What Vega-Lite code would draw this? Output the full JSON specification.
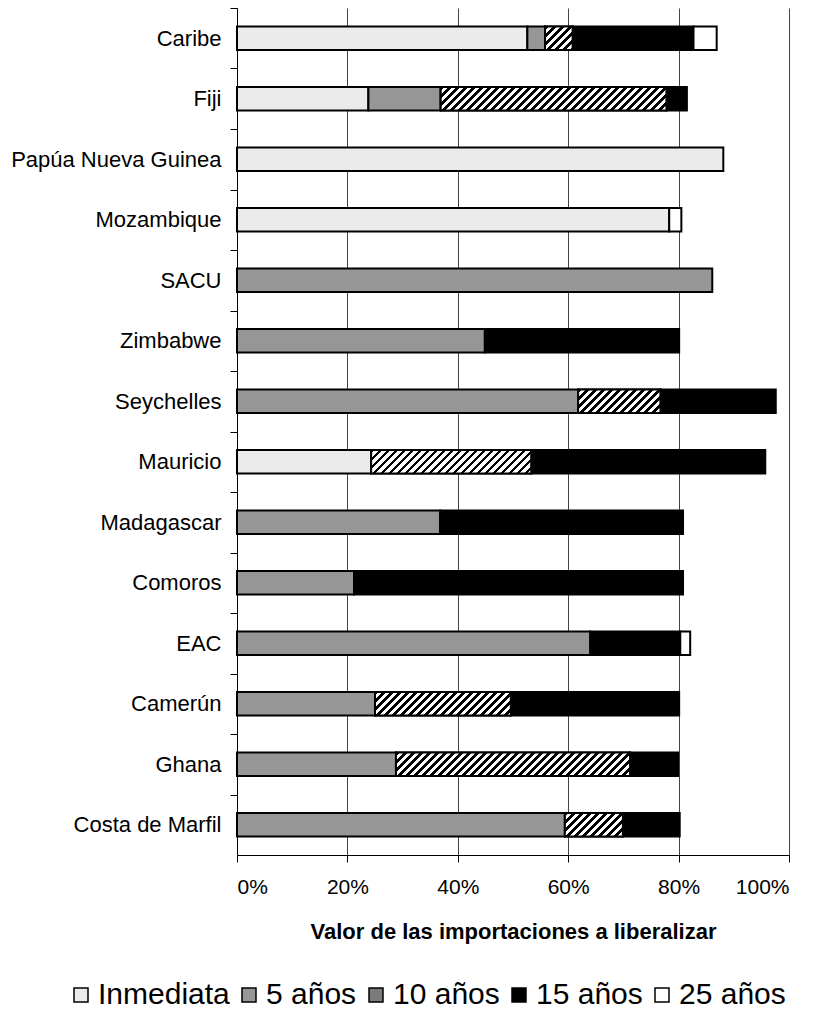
{
  "$schema": "https://vega.github.io/schema/vega-lite/v6.json",
  "width": 552,
  "height": 847,
  "autosize": {"type": "none"},
  "padding": {"left": 237, "top": 8, "right": 30, "bottom": 159},
  "background": "white",
  "config": {
    "view": {"stroke": null},
    "font": "Liberation Sans",
    "axis": {"labelFont": "Liberation Sans", "titleFont": "Liberation Sans", "labelColor": "black", "titleColor": "black", "domainColor": "black", "tickColor": "black"},
    "legend": {"labelFont": "Liberation Sans"}
  },
  "data": {
    "values": [
      {"pais": "Caribe", "anios": 0, "plazo": "Inmediata", "valor": 52.6},
      {"pais": "Caribe", "anios": 5, "plazo": "5 años", "valor": 3.2},
      {"pais": "Caribe", "anios": 10, "plazo": "10 años", "valor": 5.0},
      {"pais": "Caribe", "anios": 15, "plazo": "15 años", "valor": 21.9},
      {"pais": "Caribe", "anios": 25, "plazo": "25 años", "valor": 4.2},
      {"pais": "Fiji", "anios": 0, "plazo": "Inmediata", "valor": 23.8},
      {"pais": "Fiji", "anios": 5, "plazo": "5 años", "valor": 13.1},
      {"pais": "Fiji", "anios": 10, "plazo": "10 años", "valor": 40.9},
      {"pais": "Fiji", "anios": 15, "plazo": "15 años", "valor": 3.7},
      {"pais": "Papúa Nueva Guinea", "anios": 0, "plazo": "Inmediata", "valor": 88.1},
      {"pais": "Mozambique", "anios": 0, "plazo": "Inmediata", "valor": 78.3},
      {"pais": "Mozambique", "anios": 25, "plazo": "25 años", "valor": 2.2},
      {"pais": "SACU", "anios": 5, "plazo": "5 años", "valor": 86.1},
      {"pais": "Zimbabwe", "anios": 5, "plazo": "5 años", "valor": 44.9},
      {"pais": "Zimbabwe", "anios": 15, "plazo": "15 años", "valor": 35.2},
      {"pais": "Seychelles", "anios": 5, "plazo": "5 años", "valor": 61.8},
      {"pais": "Seychelles", "anios": 10, "plazo": "10 años", "valor": 14.9},
      {"pais": "Seychelles", "anios": 15, "plazo": "15 años", "valor": 20.9},
      {"pais": "Mauricio", "anios": 0, "plazo": "Inmediata", "valor": 24.3},
      {"pais": "Mauricio", "anios": 10, "plazo": "10 años", "valor": 29.0},
      {"pais": "Mauricio", "anios": 15, "plazo": "15 años", "valor": 42.4},
      {"pais": "Madagascar", "anios": 5, "plazo": "5 años", "valor": 36.8},
      {"pais": "Madagascar", "anios": 15, "plazo": "15 años", "valor": 44.0},
      {"pais": "Comoros", "anios": 5, "plazo": "5 años", "valor": 21.2},
      {"pais": "Comoros", "anios": 15, "plazo": "15 años", "valor": 59.6},
      {"pais": "EAC", "anios": 5, "plazo": "5 años", "valor": 64.0},
      {"pais": "EAC", "anios": 15, "plazo": "15 años", "valor": 16.3},
      {"pais": "EAC", "anios": 25, "plazo": "25 años", "valor": 1.8},
      {"pais": "Camerún", "anios": 5, "plazo": "5 años", "valor": 25.0},
      {"pais": "Camerún", "anios": 10, "plazo": "10 años", "valor": 24.6},
      {"pais": "Camerún", "anios": 15, "plazo": "15 años", "valor": 30.5},
      {"pais": "Ghana", "anios": 5, "plazo": "5 años", "valor": 28.8},
      {"pais": "Ghana", "anios": 10, "plazo": "10 años", "valor": 42.4},
      {"pais": "Ghana", "anios": 15, "plazo": "15 años", "valor": 8.7},
      {"pais": "Costa de Marfil", "anios": 5, "plazo": "5 años", "valor": 59.4},
      {"pais": "Costa de Marfil", "anios": 10, "plazo": "10 años", "valor": 10.5},
      {"pais": "Costa de Marfil", "anios": 15, "plazo": "15 años", "valor": 10.3}
    ]
  },
  "transform": [
    {"stack": "valor", "groupby": ["pais"], "sort": [{"field": "anios", "order": "ascending"}], "as": ["x0", "x1"]}
  ],
  "encoding": {
    "y": {
      "field": "pais",
      "type": "nominal",
      "sort": ["Caribe", "Fiji", "Papúa Nueva Guinea", "Mozambique", "SACU", "Zimbabwe", "Seychelles", "Mauricio", "Madagascar", "Comoros", "EAC", "Camerún", "Ghana", "Costa de Marfil"],
      "scale": {"paddingInner": 0.61, "paddingOuter": 0.305},
      "axis": {
        "title": null,
        "labelFontSize": 22,
        "labelLimit": 400,
        "labelPadding": 9,
        "tickSize": 7,
        "bandPosition": 0.5,
        "tickOffset": -30.25,
        "labelOffset": 30.25,
        "grid": false,
        "domainWidth": 1,
        "labelExpr": "(datum.value == 'SACU' || datum.value == 'EAC') ? datum.value + '\u00a0' : datum.value"
      }
    },
    "x": {
      "field": "x0",
      "type": "quantitative",
      "scale": {"domain": [0, 100], "nice": false},
      "axis": {
        "values": [0, 20, 40, 60, 80, 100],
        "labelExpr": "datum.value + '%'",
        "title": "Valor de las importaciones a liberalizar",
        "titleFontWeight": "bold",
        "titleFontSize": 22,
        "labelFontSize": 21,
        "tickSize": 7,
        "labelPadding": 14,
        "titlePadding": 24,
        "grid": true,
        "gridColor": "#444444",
        "gridWidth": 1,
        "domainWidth": 1
      }
    },
    "x2": {"field": "x1"}
  },
  "layer": [
    {
      "mark": {"type": "bar", "stroke": "black", "strokeWidth": 2},
      "encoding": {
        "color": {
          "field": "plazo",
          "type": "nominal",
          "scale": {
            "domain": ["Inmediata", "5 años", "10 años", "15 años", "25 años"],
            "range": ["#ebebeb", "#969696", "#7a7a7a", "#000000", "#ffffff"]
          },
          "legend": {
            "title": null,
            "orient": "none",
            "legendX": -171,
            "legendY": 972,
            "padding": 0,
            "direction": "horizontal",
            "symbolType": "square",
            "symbolSize": 196,
            "symbolStrokeColor": "black",
            "symbolStrokeWidth": 1.5,
            "symbolOpacity": 1,
            "labelFontSize": 30,
            "labelColor": "black",
            "columnPadding": 4,
            "labelOffset": 2,
            "encoding": {
              "symbols": {
                "stroke": {"value": "black"},
                "strokeWidth": {"value": 1.5},
                "fill": {"value": {"expr": "datum.value === '10 años' ? {gradient:'linear',x1:0,y1:0,x2:1.15,y2:1.15,stops:[{offset:0,color:'#000'},{offset:0.1125,color:'#000'},{offset:0.1125,color:'#fff'},{offset:0.25,color:'#fff'},{offset:0.25,color:'#000'},{offset:0.3625,color:'#000'},{offset:0.3625,color:'#fff'},{offset:0.5,color:'#fff'},{offset:0.5,color:'#000'},{offset:0.6125,color:'#000'},{offset:0.6125,color:'#fff'},{offset:0.75,color:'#fff'},{offset:0.75,color:'#000'},{offset:0.8625,color:'#000'},{offset:0.8625,color:'#fff'},{offset:1,color:'#fff'}]} : scale('color', datum.value)"}}
              }
            }
          }
        }
      }
    },
    {
      "transform": [{"filter": "datum.plazo === '10 años'"}],
      "mark": {
        "type": "bar",
        "stroke": "black",
        "strokeWidth": 2,
        "fill": {"expr": "{gradient:'linear',x1:0,y1:0,x2:(scale('x',datum.x1)-scale('x',datum.x0))*264/(pow(scale('x',datum.x1)-scale('x',datum.x0),2)+pow(bandwidth('y'),2)),y2:bandwidth('y')*264/(pow(scale('x',datum.x1)-scale('x',datum.x0),2)+pow(bandwidth('y'),2)),stops:[{offset:0,color:'#000'},{offset:0.0136,color:'#000'},{offset:0.0136,color:'#fff'},{offset:0.0303,color:'#fff'},{offset:0.0303,color:'#000'},{offset:0.0439,color:'#000'},{offset:0.0439,color:'#fff'},{offset:0.0606,color:'#fff'},{offset:0.0606,color:'#000'},{offset:0.0742,color:'#000'},{offset:0.0742,color:'#fff'},{offset:0.0909,color:'#fff'},{offset:0.0909,color:'#000'},{offset:0.1045,color:'#000'},{offset:0.1045,color:'#fff'},{offset:0.1212,color:'#fff'},{offset:0.1212,color:'#000'},{offset:0.1348,color:'#000'},{offset:0.1348,color:'#fff'},{offset:0.1515,color:'#fff'},{offset:0.1515,color:'#000'},{offset:0.1652,color:'#000'},{offset:0.1652,color:'#fff'},{offset:0.1818,color:'#fff'},{offset:0.1818,color:'#000'},{offset:0.1955,color:'#000'},{offset:0.1955,color:'#fff'},{offset:0.2121,color:'#fff'},{offset:0.2121,color:'#000'},{offset:0.2258,color:'#000'},{offset:0.2258,color:'#fff'},{offset:0.2424,color:'#fff'},{offset:0.2424,color:'#000'},{offset:0.2561,color:'#000'},{offset:0.2561,color:'#fff'},{offset:0.2727,color:'#fff'},{offset:0.2727,color:'#000'},{offset:0.2864,color:'#000'},{offset:0.2864,color:'#fff'},{offset:0.3030,color:'#fff'},{offset:0.3030,color:'#000'},{offset:0.3167,color:'#000'},{offset:0.3167,color:'#fff'},{offset:0.3333,color:'#fff'},{offset:0.3333,color:'#000'},{offset:0.3470,color:'#000'},{offset:0.3470,color:'#fff'},{offset:0.3636,color:'#fff'},{offset:0.3636,color:'#000'},{offset:0.3773,color:'#000'},{offset:0.3773,color:'#fff'},{offset:0.3939,color:'#fff'},{offset:0.3939,color:'#000'},{offset:0.4076,color:'#000'},{offset:0.4076,color:'#fff'},{offset:0.4242,color:'#fff'},{offset:0.4242,color:'#000'},{offset:0.4379,color:'#000'},{offset:0.4379,color:'#fff'},{offset:0.4545,color:'#fff'},{offset:0.4545,color:'#000'},{offset:0.4682,color:'#000'},{offset:0.4682,color:'#fff'},{offset:0.4848,color:'#fff'},{offset:0.4848,color:'#000'},{offset:0.4985,color:'#000'},{offset:0.4985,color:'#fff'},{offset:0.5152,color:'#fff'},{offset:0.5152,color:'#000'},{offset:0.5288,color:'#000'},{offset:0.5288,color:'#fff'},{offset:0.5455,color:'#fff'},{offset:0.5455,color:'#000'},{offset:0.5591,color:'#000'},{offset:0.5591,color:'#fff'},{offset:0.5758,color:'#fff'},{offset:0.5758,color:'#000'},{offset:0.5894,color:'#000'},{offset:0.5894,color:'#fff'},{offset:0.6061,color:'#fff'},{offset:0.6061,color:'#000'},{offset:0.6197,color:'#000'},{offset:0.6197,color:'#fff'},{offset:0.6364,color:'#fff'},{offset:0.6364,color:'#000'},{offset:0.6500,color:'#000'},{offset:0.6500,color:'#fff'},{offset:0.6667,color:'#fff'},{offset:0.6667,color:'#000'},{offset:0.6803,color:'#000'},{offset:0.6803,color:'#fff'},{offset:0.6970,color:'#fff'},{offset:0.6970,color:'#000'},{offset:0.7106,color:'#000'},{offset:0.7106,color:'#fff'},{offset:0.7273,color:'#fff'},{offset:0.7273,color:'#000'},{offset:0.7409,color:'#000'},{offset:0.7409,color:'#fff'},{offset:0.7576,color:'#fff'},{offset:0.7576,color:'#000'},{offset:0.7712,color:'#000'},{offset:0.7712,color:'#fff'},{offset:0.7879,color:'#fff'},{offset:0.7879,color:'#000'},{offset:0.8015,color:'#000'},{offset:0.8015,color:'#fff'},{offset:0.8182,color:'#fff'},{offset:0.8182,color:'#000'},{offset:0.8318,color:'#000'},{offset:0.8318,color:'#fff'},{offset:0.8485,color:'#fff'},{offset:0.8485,color:'#000'},{offset:0.8621,color:'#000'},{offset:0.8621,color:'#fff'},{offset:0.8788,color:'#fff'},{offset:0.8788,color:'#000'},{offset:0.8924,color:'#000'},{offset:0.8924,color:'#fff'},{offset:0.9091,color:'#fff'},{offset:0.9091,color:'#000'},{offset:0.9227,color:'#000'},{offset:0.9227,color:'#fff'},{offset:0.9394,color:'#fff'},{offset:0.9394,color:'#000'},{offset:0.9530,color:'#000'},{offset:0.9530,color:'#fff'},{offset:0.9697,color:'#fff'},{offset:0.9697,color:'#000'},{offset:0.9833,color:'#000'},{offset:0.9833,color:'#fff'},{offset:1,color:'#fff'}]}"}
      }
    }
  ]
}
